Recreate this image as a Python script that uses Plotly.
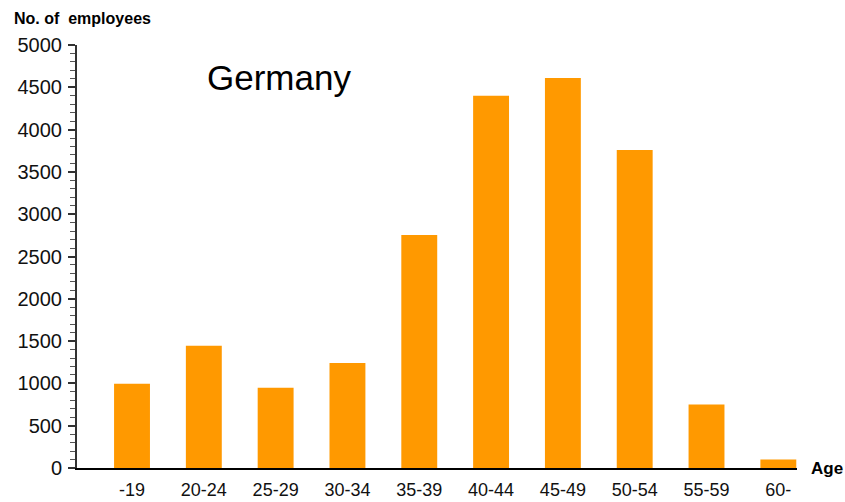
import plotly.graph_objects as go

# Employees by age band, Germany
age_groups = ["-19", "20-24", "25-29", "30-34", "35-39", "40-44", "45-49", "50-54", "55-59", "60-"]
employees = [995, 1445, 950, 1240, 2755, 4400, 4610, 3760, 750, 100]

y_ticks = list(range(0, 5001, 500))

bar_color = "#FF9900"
font_family = "Liberation Sans, Arial, sans-serif"

fig = go.Figure(
    go.Bar(
        x=age_groups,
        y=employees,
        marker=dict(color=bar_color, line=dict(width=0)),
    )
)

fig.update_layout(
    width=845,
    height=502,
    margin=dict(l=77, r=48, t=45, b=34),
    paper_bgcolor="white",
    plot_bgcolor="white",
    bargap=0.5,
    showlegend=False,
    font=dict(family=font_family, size=19, color="#111111"),
)

fig.update_xaxes(
    type="category",
    range=[-0.766, 9.26],
    automargin=False,
    showgrid=False,
    zeroline=False,
    showline=True,
    linecolor="#000000",
    linewidth=2,
    ticks="",
    ticklabelstandoff=4,
    tickfont=dict(size=18),
)

fig.update_yaxes(
    range=[0, 5000],
    automargin=False,
    tickvals=y_ticks,
    showgrid=False,
    zeroline=False,
    showline=True,
    linecolor="#333333",
    linewidth=2,
    ticks="outside",
    ticklen=7,
    tickwidth=1.5,
    tickcolor="#333333",
    minor=dict(dtick=100, ticks="outside", ticklen=5, tickwidth=1, tickcolor="#555555"),
    ticklabelstandoff=2,
    tickfont=dict(size=20),
)

# Axis titles and chart label
fig.add_annotation(
    text="<b>No. of  employees</b>", xref="paper", yref="paper",
    x=(12 - 77) / 720, y=1 + 27 / 423, xanchor="left", yanchor="middle",
    showarrow=False, font=dict(size=16, color="#000000"),
)
fig.add_annotation(
    text="<b>Age</b>", xref="paper", yref="paper",
    x=1 + 12 / 720, y=0, xanchor="left", yanchor="middle",
    showarrow=False, font=dict(size=17, color="#000000"),
)
fig.add_annotation(
    text="Germany", xref="paper", yref="paper",
    x=(279 - 77) / 720, y=1 - (77 - 45) / 423, xanchor="center", yanchor="middle",
    showarrow=False, font=dict(size=35, color="#000000"),
)

fig.write_html("out.html")
